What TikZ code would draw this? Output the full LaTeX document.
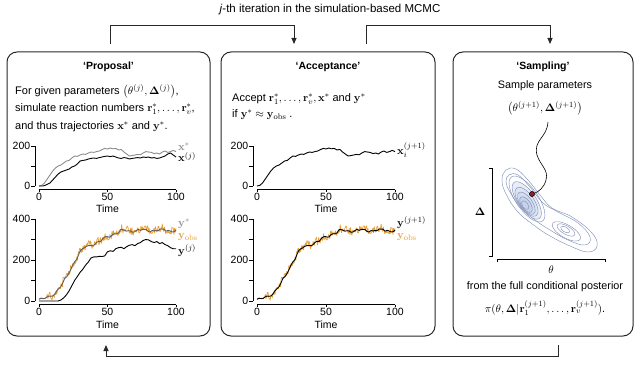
\documentclass[tikz,border=0pt]{standalone}
\usepackage[no-math]{fontspec}
\setmainfont{Liberation Sans}
\usepackage{amsmath}
\usetikzlibrary{arrows.meta}
\definecolor{obs}{RGB}{230,158,55}
\definecolor{gline}{RGB}{140,140,140}
\definecolor{gdark}{RGB}{95,95,95}
\definecolor{cont}{RGB}{130,146,185}
\definecolor{contfill}{RGB}{200,210,235}
\definecolor{dotred}{RGB}{150,30,40}
\definecolor{boxc}{RGB}{40,40,40}
\tikzset{
 panel/.style={draw=boxc, line width=1pt, rounded corners=10pt, inner sep=0pt, outer sep=0pt},
 flow/.style={draw=boxc, line width=0.9pt, -{Triangle[length=6pt,width=5pt]}},
 heading/.style={font=\bfseries\fontsize{10.5}{12}\selectfont},
 body/.style={font=\fontsize{11}{13}\selectfont, inner sep=0pt, anchor=west},
 cbody/.style={font=\fontsize{10.8}{13}\selectfont, inner sep=0pt},
 ticklab/.style={font=\fontsize{10.5}{12}\selectfont, inner sep=1pt},
 axisln/.style={line width=0.6pt, draw=black},
 traj/.style={line width=0.9pt, line join=round},
 clab/.style={font=\fontsize{11}{13}\selectfont, inner sep=0pt, anchor=west},
 contour/.style={draw=cont, line width=0.45pt},
 declare function={fy(\u)=345/(1+exp(-(\u-24)/6)) - 45*exp(-((\u-42)/12)^2) + 5*sin(25*\u) + 4*sin(61*\u+30);}
}
\begin{document}
\begin{tikzpicture}[x=1pt,y=-1pt]
\useasboundingbox (0,0) rectangle (640,369);
\node[font=\fontsize{11.5}{13}\selectfont] (title) at (330,10) {\textit{j}-th iteration in the simulation-based MCMC};

% panels
\node[panel, minimum width=203pt, minimum height=284pt] (prop) at (108.5,194) {};
\node[panel, minimum width=214pt, minimum height=284pt] (acc) at (328,194) {};
\node[panel, minimum width=180pt, minimum height=284pt] (samp) at (543,194) {};

% connectors
\coordinate (c1s) at (110,44);
\coordinate (c1e) at (294,44);
\coordinate (c2s) at (366,44);
\coordinate (c2e) at (550,44);
\coordinate (c3s) at (558,345);
\coordinate (c3e) at (106,345);
\draw[flow] (c1s) -- ++(0,-19) -| (c1e);
\draw[flow] (c2s) -- ++(0,-19) -| (c2e);
\draw[flow] (c3s) -- ++(0,11) -| (c3e);

% headings
\node[heading] (hp) at (108.5,67) {`Proposal'};
\node[heading] (ha) at (328,67) {`Acceptance'};
\node[heading] (hs) at (543,67) {`Sampling'};

% proposal text
\node[body] (p1) at (15,91) {For given parameters $\bigl(\theta^{(j)},\mathbf{\Delta}^{(j)}\bigr)$,};
\node[body] (p2) at (15,109) {simulate reaction numbers $\mathbf{r}^*_1,\ldots,\mathbf{r}^*_v$,};
\node[body] (p3) at (15,127) {and thus trajectories $\mathbf{x}^*$ and $\mathbf{y}^*$.};

% acceptance text
\node[body] (a1) at (232,99) {Accept $\mathbf{r}^*_1,\ldots,\mathbf{r}^*_v,\mathbf{x}^*$ and $\mathbf{y}^*$};
\node[body] (a2) at (232,115) {if $\mathbf{y}^*\approx\mathbf{y}_{\mathrm{obs}}$ .};

% sampling text
\node[cbody] (s1) at (545,86) {Sample parameters};
\node[cbody] (s2) at (545,108) {$\bigl(\theta^{(j+1)},\mathbf{\Delta}^{(j+1)}\bigr)$};
\node[cbody] (s3) at (545,287) {from the full conditional posterior};
\node[cbody] (s4) at (545,308) {$\pi(\theta,\mathbf{\Delta}|\mathbf{r}_1^{(j+1)},\ldots,\mathbf{r}_v^{(j+1)})$.};

% ---------- Proposal plot 1
\begin{scope}[shift={(39,186)},x=1.37pt,y=0.2pt]
\draw[axisln] (-3,0) -- (-3,200);
\foreach \v in {0,100,200} \draw[axisln] (-3,\v) -- (-5.5,\v);
\draw[axisln] (0,-18) -- (100,-18);
\foreach \t in {0,50,100} \draw[axisln] (\t,-18) -- (\t,-30);
\node[ticklab,anchor=east] at (-5.5,200) {200};
\node[ticklab,anchor=east] at (-5.5,0) {0};
\node[ticklab,anchor=north] at (0,-28) {0};
\node[ticklab,anchor=north] at (50,-28) {50};
\node[ticklab,anchor=north] at (100,-28) {100};
\node[ticklab] at (50,-115) {Time};
\draw[traj,gline] plot coordinates {(0,0) (2,3) (4,15) (6,35) (8,55) (10,75) (12,90) (14,100) (16,105) (18,115) (20,125) (22,128) (24,140) (26,150) (28,148) (30,155) (32,160) (34,158) (36,165) (38,170) (40,168) (42,172) (44,175) (46,182) (48,188) (50,185) (52,190) (54,186) (56,188) (58,180) (60,183) (62,170) (64,160) (66,150) (68,152) (70,155) (72,158) (74,156) (76,165) (78,172) (80,170) (82,168) (84,162) (86,165) (88,160) (90,170) (92,175) (94,168) (96,172) (98,178) (100,172)};
\draw[traj] plot coordinates {(0,0) (3,0) (5,5) (8,15) (10,30) (12,45) (14,60) (16,70) (18,75) (20,80) (22,85) (24,95) (26,100) (28,110) (30,125) (32,128) (34,130) (36,135) (38,138) (40,140) (42,138) (44,142) (46,145) (48,148) (50,150) (52,147) (54,150) (56,145) (58,140) (60,138) (62,142) (64,140) (66,135) (68,138) (70,140) (72,142) (74,140) (76,145) (78,143) (80,145) (82,140) (84,142) (86,138) (88,140) (90,145) (92,150) (94,160) (96,165) (98,155) (100,145)};
\end{scope}
\node[clab,gline] (lxs) at (178,147) {$\mathbf{x}^*$};
\node[clab] (lxj) at (178,157) {$\mathbf{x}^{(j)}$};

% ---------- Proposal plot 2
\begin{scope}[shift={(39,301)},x=1.37pt,y=0.205pt]
\draw[axisln] (-3,0) -- (-3,400);
\foreach \v in {0,100,...,400} \draw[axisln] (-3,\v) -- (-5.5,\v);
\draw[axisln] (0,-18) -- (100,-18);
\foreach \t in {0,50,100} \draw[axisln] (\t,-18) -- (\t,-30);
\node[ticklab,anchor=east] at (-5.5,400) {400};
\node[ticklab,anchor=east] at (-5.5,200) {200};
\node[ticklab,anchor=east] at (-5.5,0) {0};
\node[ticklab,anchor=north] at (0,-28) {0};
\node[ticklab,anchor=north] at (50,-28) {50};
\node[ticklab,anchor=north] at (100,-28) {100};
\node[ticklab] at (50,-117) {Time};
\pgfmathsetseed{7}
\draw[obs,line width=0.7pt,line join=round] plot[domain=0:100,samples=200,variable=\t] (\t,{fy(\t)+(\t>6)*(20*rand+5*rnd)});
\pgfmathsetseed{11}
\draw[traj,gdark] plot[domain=0:100,samples=70,variable=\t] (\t,{fy(\t)+3*rand});
\draw[traj] plot coordinates {(0,0) (14,0) (16,5) (18,15) (20,30) (22,50) (24,75) (26,100) (28,120) (30,140) (32,155) (34,175) (36,190) (38,210) (40,215) (42,215) (44,218) (46,217) (48,220) (50,240) (52,245) (54,242) (56,255) (58,260) (60,262) (62,255) (64,265) (66,272) (68,275) (70,270) (72,280) (74,285) (76,295) (78,300) (80,298) (82,290) (84,285) (86,290) (88,280) (90,285) (92,275) (94,270) (96,260) (98,255) (100,255)};
\end{scope}
\node[clab,gline] (lys) at (178,224) {$\mathbf{y}^*$};
\node[clab,obs] (lyo) at (178,237) {$\mathbf{y}_{\mathrm{obs}}$};
\node[clab] (lyj) at (178,251) {$\mathbf{y}^{(j)}$};

% ---------- Acceptance plot 1
\begin{scope}[shift={(257,186)},x=1.38pt,y=0.2pt]
\draw[axisln] (-3,0) -- (-3,200);
\foreach \v in {0,100,200} \draw[axisln] (-3,\v) -- (-5.5,\v);
\draw[axisln] (0,-18) -- (100,-18);
\foreach \t in {0,50,100} \draw[axisln] (\t,-18) -- (\t,-30);
\node[ticklab,anchor=east] at (-5.5,200) {200};
\node[ticklab,anchor=east] at (-5.5,0) {0};
\node[ticklab,anchor=north] at (0,-28) {0};
\node[ticklab,anchor=north] at (50,-28) {50};
\node[ticklab,anchor=north] at (100,-28) {100};
\node[ticklab] at (50,-115) {Time};
\draw[traj] plot coordinates {(0,0) (2,3) (4,15) (6,35) (8,55) (10,75) (12,90) (14,100) (16,105) (18,115) (20,125) (22,128) (24,140) (26,150) (28,148) (30,155) (32,160) (34,158) (36,165) (38,170) (40,168) (42,172) (44,175) (46,182) (48,188) (50,185) (52,190) (54,186) (56,188) (58,180) (60,183) (62,170) (64,160) (66,150) (68,152) (70,155) (72,158) (74,156) (76,165) (78,172) (80,170) (82,168) (84,162) (86,165) (88,160) (90,170) (92,175) (94,168) (96,172) (98,178) (100,172)};
\end{scope}
\node[clab] (lxi) at (397,150) {$\mathbf{x}_i^{(j+1)}$};

% ---------- Acceptance plot 2
\begin{scope}[shift={(257,301)},x=1.38pt,y=0.205pt]
\draw[axisln] (-3,0) -- (-3,400);
\foreach \v in {0,100,...,400} \draw[axisln] (-3,\v) -- (-5.5,\v);
\draw[axisln] (0,-18) -- (100,-18);
\foreach \t in {0,50,100} \draw[axisln] (\t,-18) -- (\t,-30);
\node[ticklab,anchor=east] at (-5.5,400) {400};
\node[ticklab,anchor=east] at (-5.5,200) {200};
\node[ticklab,anchor=east] at (-5.5,0) {0};
\node[ticklab,anchor=north] at (0,-28) {0};
\node[ticklab,anchor=north] at (50,-28) {50};
\node[ticklab,anchor=north] at (100,-28) {100};
\node[ticklab] at (50,-117) {Time};
\pgfmathsetseed{7}
\draw[obs,line width=0.7pt,line join=round] plot[domain=0:100,samples=200,variable=\t] (\t,{fy(\t)+(\t>6)*(20*rand+5*rnd)});
\pgfmathsetseed{11}
\draw[traj] plot[domain=0:100,samples=70,variable=\t] (\t,{fy(\t)+3*rand});
\end{scope}
\node[clab] (lyn) at (397,223) {$\mathbf{y}^{(j+1)}$};
\node[clab,obs] (lyo2) at (397,237) {$\mathbf{y}_{\mathrm{obs}}$};

% ---------- Sampling: contour plot
\draw[axisln] (489,168) -- (492,168) -- (492,256) -- (489,256);
\draw[axisln] (497,262) -- (497,259) -- (605,259) -- (605,262);
\node[font=\fontsize{11}{13}\selectfont] (dlab) at (480,212) {$\mathbf{\Delta}$};
\node[font=\fontsize{11}{13}\selectfont] (tlab) at (551,270) {$\theta$};

\draw[contour] plot[smooth cycle,tension=0.7] coordinates {(506,170) (516,169) (528,180) (540,195) (552,208) (572,217) (592,233) (597,246) (588,252) (570,246) (550,236) (535,226) (518,212) (506,194) (502,180)};
\draw[contour] plot[smooth cycle,tension=0.7] coordinates {(509,175) (518,175) (530,187) (543,203) (558,212) (578,223) (590,237) (585,245) (568,240) (550,230) (535,220) (520,207) (510,192) (506,182)};
\begin{scope}[rotate around={-55:(527,199)}]
\draw[contour] (527,199) ellipse [x radius=27, y radius=11];
\draw[contour,fill=contfill!40] (528,200) ellipse [x radius=22, y radius=9];
\draw[contour,fill=contfill!60] (529,201) ellipse [x radius=17, y radius=7.5];
\draw[contour,fill=contfill!80] (530,202) ellipse [x radius=13, y radius=6];
\draw[contour,fill=contfill] (531,203) ellipse [x radius=9, y radius=4.5];
\draw[contour,fill=contfill] (531,204) ellipse [x radius=5, y radius=2.8];
\end{scope}
\begin{scope}[rotate around={-30:(566,230)}]
\draw[contour] (567,231) ellipse [x radius=16, y radius=6.5];
\draw[contour] (566,230) ellipse [x radius=10, y radius=4.2];
\draw[contour] (565,230) ellipse [x radius=5, y radius=2.5];
\end{scope}
\node[circle,fill=dotred,draw=black,line width=0.6pt,inner sep=0pt,minimum size=5pt] (dot) at (532,194) {};
\coordinate (ws) at (548,122);
\draw[line width=0.6pt] (ws) .. controls (547,138) and (533,140) .. (537,155) .. controls (540,165) and (549,170) .. (546,180) .. controls (544,188) and (538,192) .. (dot);
\end{tikzpicture}
\end{document}
